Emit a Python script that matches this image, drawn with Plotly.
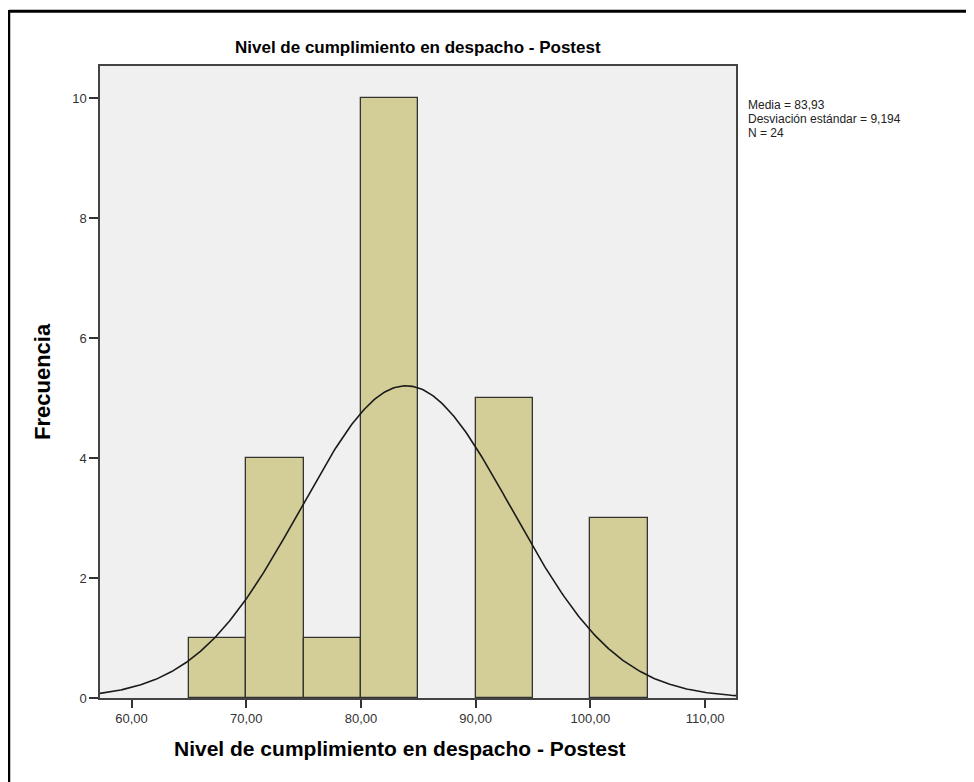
import numpy as np
import plotly.graph_objects as go

# Data
bin_starts = [65, 70, 75, 80, 85, 90, 95, 100]
counts = [1, 4, 1, 10, 0, 5, 0, 3]
bin_width = 5
mean_val = 83.93
sd_val = 9.194
n_val = 24
x_ticks = [60, 70, 80, 90, 100, 110]
y_ticks = [0, 2, 4, 6, 8, 10]
stats_lines = ["Media = 83,93", "Desviación estándar = 9,194", "N = 24"]

title_text = "Nivel de cumplimiento en despacho - Postest"
x_title = "Nivel de cumplimiento en despacho - Postest"
y_title = "Frecuencia"

xr = [57.25, 112.7]
yr = [0, 10.54]

centers = [s + bin_width / 2 for s, c in zip(bin_starts, counts) if c > 0]
heights = [c for c in counts if c > 0]

xs = np.linspace(xr[0], xr[1], 400)
ys = n_val * bin_width / (sd_val * np.sqrt(2 * np.pi)) * np.exp(-0.5 * ((xs - mean_val) / sd_val) ** 2)

fig = go.Figure()
fig.add_trace(go.Bar(x=centers, y=heights, width=bin_width,
                     marker=dict(color="#d3ce97", line=dict(color="#333333", width=1.3)),
                     hoverinfo="skip"))
fig.add_trace(go.Scatter(x=xs, y=ys, mode="lines",
                         line=dict(color="#1a1a1a", width=1.6), hoverinfo="skip"))

# page body has an 8px margin; coordinates below are figure pixels (= screen - 8)
W, H = 966, 774
L, R, T, B = 92, 728, 58, 690
fig.update_layout(
    width=W, height=H,
    margin=dict(l=L, r=W - R, t=T, b=H - B, pad=0),
    paper_bgcolor="white", plot_bgcolor="#f0f0f0",
    showlegend=False,
    separators=",.",
    bargap=0,
    font=dict(family="Liberation Sans, Arial, sans-serif", color="#1a1a1a"),
)
fig.update_xaxes(range=xr, tickvals=x_ticks, tickformat=".2f",
                 ticks="outside", ticklen=8, tickwidth=1.5, tickcolor="#333",
                 showline=True, linecolor="#444", linewidth=1.5, mirror=True,
                 showgrid=False, zeroline=False,
                 tickfont=dict(size=13, color="#333"))
fig.update_yaxes(range=yr, tickvals=y_ticks,
                 ticks="outside", ticklen=9, tickwidth=1.5, tickcolor="#333",
                 showline=True, linecolor="#444", linewidth=1.5, mirror=True,
                 showgrid=False, zeroline=False,
                 tickfont=dict(size=13, color="#333"))

px = lambda v: (v - L) / (R - L)
py = lambda v: (B - v) / (B - T)

# title and axis titles
fig.add_annotation(xref="paper", yref="paper", x=px(410), y=py(39),
                   xanchor="center", yanchor="middle", showarrow=False,
                   text="<b>" + title_text + "</b>", font=dict(size=17, color="#000"))
fig.add_annotation(xref="paper", yref="paper", x=px(392), y=py(740),
                   xanchor="center", yanchor="middle", showarrow=False,
                   text="<b>" + x_title + "</b>", font=dict(size=21, color="#000"))
fig.add_annotation(xref="paper", yref="paper", x=px(34), y=py(374),
                   xanchor="center", yanchor="middle", showarrow=False, textangle=-90,
                   text="<b>" + y_title + "</b>", font=dict(size=22, color="#000"))

# stats text
for i, t in enumerate(stats_lines):
    fig.add_annotation(xref="paper", yref="paper",
                       x=px(738), y=py(97 + 14 * i),
                       xanchor="left", yanchor="middle", showarrow=False,
                       text=t, font=dict(size=12, color="#222"))

# outer frame (top and left edges)
fig.add_shape(type="line", xref="paper", yref="paper", x0=px(1), x1=px(980), y0=py(3.3), y1=py(3.3),
              line=dict(color="black", width=3))
fig.add_shape(type="line", xref="paper", yref="paper", x0=px(1), x1=px(1), y0=py(2), y1=py(790),
              line=dict(color="black", width=2.5))

fig.write_html("out.html")
